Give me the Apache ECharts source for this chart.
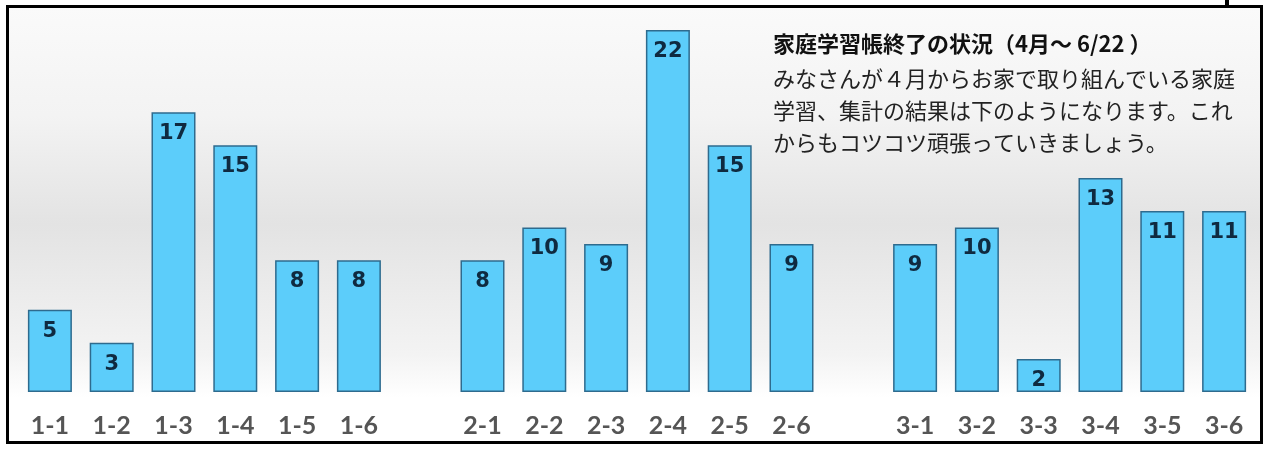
<!DOCTYPE html>
<html>
<head>
<meta charset="utf-8">
<script src="https://cdn.jsdelivr.net/npm/echarts@6/dist/echarts.min.js"></script>
<style>
html,body{margin:0;padding:0;background:#fff;}
#chart{width:1271px;height:450px;}
</style>
</head>
<body>
<div id="chart"></div>
<script>
const categories = ['1-1','1-2','1-3','1-4','1-5','1-6','', '2-1','2-2','2-3','2-4','2-5','2-6','', '3-1','3-2','3-3','3-4','3-5','3-6'];
const values = [5, 3, 17, 15, 8, 8, '-', 8, 10, 9, 22, 15, 9, '-', 9, 10, 2, 13, 11, 11];
const titleText = '家庭学習帳終了の状況（4月～ 6/22 ）';
const bodyLines = [
  'みなさんが４月からお家で取り組んでいる家庭',
  '学習、集計の結果は下のようになります。これ',
  'からもコツコツ頑張っていきましょう。'
];

const chart = echarts.init(document.getElementById('chart'));
chart.setOption({
  backgroundColor: '#ffffff',
  animation: false,
  graphic: [
    {
      type: 'rect', z: -10, silent: true,
      shape: { x: 8, y: 7, width: 1253, height: 434 },
      style: {
        fill: new echarts.graphic.LinearGradient(0, 0, 0, 1, [
          { offset: 0, color: '#fafafa' },
          { offset: 0.25, color: '#f3f3f3' },
          { offset: 0.5, color: '#e3e3e3' },
          { offset: 0.8, color: '#f3f3f3' },
          { offset: 0.9, color: '#ffffff' },
          { offset: 1, color: '#ffffff' }
        ])
      }
    },
    {
      type: 'rect', z: 100, silent: true,
      shape: { x: 7.5, y: 6.5, width: 1254, height: 436 },
      style: { fill: 'none', stroke: '#000', lineWidth: 3 }
    },
    {
      type: 'rect', z: 100, silent: true,
      shape: { x: 1225, y: 0, width: 4, height: 6 },
      style: { fill: '#000' }
    },
    {
      type: 'text', z: 50, silent: true,
      left: 773, top: 33,
      style: {
        text: titleText,
        fontFamily: 'Noto Sans CJK JP',
        fontWeight: 'bold',
        fontSize: 22,
        fill: '#111'
      }
    },
    {
      type: 'text', z: 50, silent: true,
      left: 773, top: 63,
      style: {
        text: bodyLines.join('\n'),
        fontFamily: 'Noto Sans CJK JP',
        fontSize: 22,
        lineHeight: 32,
        fill: '#222'
      }
    }
  ],
  grid: { left: 19, right: 16, top: 30, bottom: 58 },
  xAxis: {
    type: 'category',
    data: categories,
    axisLine: { show: false },
    axisTick: { show: false },
    axisLabel: {
      interval: 0,
      margin: 21,
      fontFamily: 'Lato',
      fontSize: 25,
      fontWeight: 'bold',
      color: '#555'
    }
  },
  yAxis: {
    type: 'value',
    min: 0,
    max: 22,
    show: false,
    splitLine: { show: false }
  },
  series: [{
    type: 'bar',
    data: values,
    barWidth: 44,
    itemStyle: {
      color: '#5ccdfa',
      borderColor: '#2e6b8e',
      borderWidth: 1.5
    },
    label: {
      show: true,
      position: 'insideTop',
      distance: 11,
      fontFamily: 'DejaVu Sans',
      fontWeight: 'bold',
      fontSize: 21,
      color: '#0f2a40'
    }
  }]
});
</script>
</body>
</html>
